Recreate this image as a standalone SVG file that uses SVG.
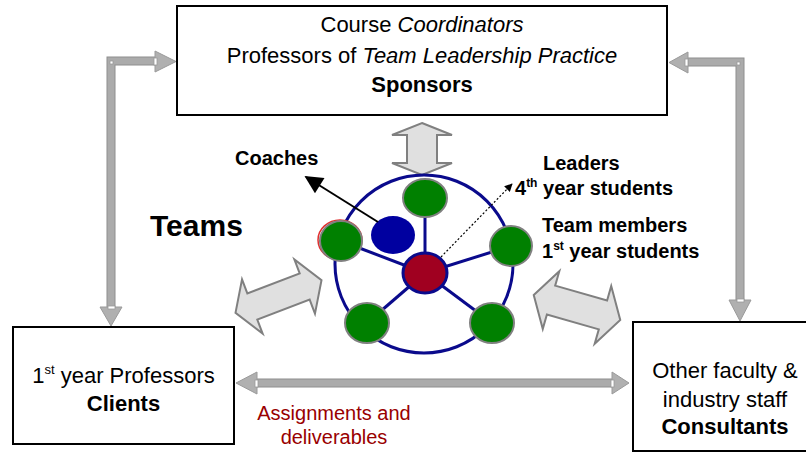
<svg xmlns="http://www.w3.org/2000/svg" width="806" height="452" viewBox="0 0 806 452">
<style>
.box{fill:#fff;stroke:#000;stroke-width:2}
.t{font-family:"Liberation Sans",Arial,sans-serif;font-size:22px;fill:#000}
.b{font-weight:bold}
.lab{font-family:"Liberation Sans",Arial,sans-serif;font-size:20px;font-weight:bold;fill:#000}
.big{font-size:30px}
.shaftO{fill:none;stroke:#8e8e8e;stroke-width:9;stroke-linejoin:miter}
.shaftI{fill:none;stroke:#ababab;stroke-width:7;stroke-linejoin:miter}
.head{fill:#b0b0b0;stroke:#9a9a9a;stroke-width:1}
.joint{fill:#fff;stroke:#9a9a9a;stroke-width:0.8}
.fat{fill:#e0e0e0;stroke:#808080;stroke-width:2;stroke-linejoin:miter}
.ring{fill:none;stroke:#0a0a8c;stroke-width:3}
.spoke{stroke:#0a0a8c;stroke-width:3}
.green{fill:#008000;stroke:#808080;stroke-width:2}
</style>
<defs>
<marker id="blk" viewBox="0 0 10 10" refX="9" refY="5" markerUnits="userSpaceOnUse" markerWidth="20" markerHeight="18" orient="auto"><path d="M0,0 L10,5 L0,10 z" fill="#000"/></marker>
<marker id="sm" viewBox="0 0 10 10" refX="9" refY="5" markerUnits="userSpaceOnUse" markerWidth="8" markerHeight="8" orient="auto"><path d="M0,0 L10,5 L0,10 z" fill="#000"/></marker>
</defs>

<g id="connectors">
  <path class="shaftO" d="M155,61 H111 V307"/>
  <path class="shaftI" d="M155,61 H111 V307"/>
  <polygon class="head" points="155,51 176,61.5 155,72"/>
  <polygon class="head" points="100,307 111,326 122,307"/>
  <rect class="joint" x="154" y="58" width="3" height="7"/>
  <rect class="joint" x="108" y="306" width="7" height="3"/>
  <rect class="joint" x="110" y="61" width="3" height="3"/>
  <path class="shaftO" d="M688,62 H740 V300"/>
  <path class="shaftI" d="M688,62 H740 V300"/>
  <polygon class="head" points="688,52 669,62.5 688,73"/>
  <polygon class="head" points="729,300 740,321 751,300"/>
  <rect class="joint" x="685" y="59" width="3" height="7"/>
  <rect class="joint" x="737" y="299" width="7" height="3"/>
  <rect class="joint" x="737" y="62" width="3" height="3"/>
  <path class="shaftO" d="M257,383 H612"/>
  <path class="shaftI" d="M257,383 H612"/>
  <polygon class="head" points="257,372 236,383 257,394"/>
  <polygon class="head" points="612,372 629,383 612,394"/>
  <rect class="joint" x="255" y="380" width="3" height="7"/>
  <rect class="joint" x="611" y="380" width="3" height="7"/>
  <polygon class="fat" points="422,123 452,135 437,135 437,163 452,163 422,175 392,163 407,163 407,135 392,135"/>
  <polygon class="fat" transform="translate(278.5,296.5) rotate(-20.8)" points="-46,0 -28,-29 -28,-14 28,-14 28,-29 46,0 28,29 28,14 -28,14 -28,29"/>
  <polygon class="fat" transform="translate(577,307.5) rotate(16)" points="-45,0 -27,-30 -27,-15 27,-15 27,-30 45,0 27,30 27,15 -27,15 -27,30"/>
</g>

<g id="sponsors">
  <rect class="box" x="177" y="6" width="490" height="109"/>
  <text class="t" x="422" y="32" text-anchor="middle">Course <tspan font-style="italic">Coordinators</tspan></text>
  <text class="t" x="422" y="63" text-anchor="middle">Professors of <tspan font-style="italic">Team Leadership Practice</tspan></text>
  <text class="t b" x="422" y="92" text-anchor="middle">Sponsors</text>
</g>

<g id="clients">
  <rect class="box" x="13" y="327" width="221" height="117"/>
  <text class="t" x="123.5" y="383" text-anchor="middle">1<tspan font-size="13" dy="-9">st</tspan><tspan dy="9"> year Professors</tspan></text>
  <text class="t b" x="123.5" y="411" text-anchor="middle">Clients</text>
</g>

<g id="consultants">
  <rect class="box" x="633" y="322" width="190" height="129"/>
  <text class="t" x="725" y="378" text-anchor="middle">Other faculty &amp;</text>
  <text class="t" x="725" y="407" text-anchor="middle">industry staff</text>
  <text class="t b" x="725" y="434" text-anchor="middle">Consultants</text>
</g>

<g id="teams">
  <text class="lab big" x="150" y="236">Teams</text>
  <circle class="ring" cx="424" cy="264" r="89"/>
  <line class="spoke" x1="425" y1="273" x2="425" y2="198"/>
  <line class="spoke" x1="425" y1="273" x2="341" y2="241"/>
  <line class="spoke" x1="425" y1="273" x2="511" y2="246"/>
  <line class="spoke" x1="425" y1="273" x2="367" y2="323"/>
  <line class="spoke" x1="425" y1="273" x2="492" y2="323"/>
  <ellipse class="green" cx="425" cy="198" rx="22" ry="19"/>
  <ellipse cx="340" cy="240" rx="22" ry="20" fill="none" stroke="#e03030" stroke-width="1.5"/>
  <ellipse class="green" cx="341" cy="241" rx="21" ry="20"/>
  <ellipse class="green" cx="511" cy="246" rx="21" ry="20"/>
  <ellipse class="green" cx="367" cy="323" rx="22" ry="20"/>
  <ellipse class="green" cx="492" cy="323" rx="22" ry="20"/>
  <ellipse cx="393" cy="235" rx="22" ry="19" fill="#0000a0"/>
  <ellipse cx="425" cy="273" rx="22" ry="20" fill="#a00020" stroke="#0a0a8c" stroke-width="3"/>
</g>

<g id="coaches">
  <line x1="378" y1="222" x2="306" y2="177" stroke="#000" stroke-width="2" marker-end="url(#blk)"/>
  <text class="lab" x="235" y="165">Coaches</text>
</g>

<g id="leaders">
  <line x1="441" y1="257" x2="512" y2="184" stroke="#000" stroke-width="1.2" stroke-dasharray="2 2" marker-end="url(#sm)"/>
  <text class="lab" x="543" y="170">Leaders</text>
  <text class="lab" x="515" y="195">4<tspan font-size="12" dy="-8">th</tspan><tspan dy="8"> year students</tspan></text>
</g>

<g id="members">
  <text class="lab" x="542" y="232">Team members</text>
  <text class="lab" x="542" y="258">1<tspan font-size="12" dy="-8">st</tspan><tspan dy="8"> year students</tspan></text>
</g>

<g id="assignments">
  <text x="334" y="420" text-anchor="middle" font-family="Liberation Sans, Arial, sans-serif" font-size="20" fill="#990000">Assignments and</text>
  <text x="334" y="444" text-anchor="middle" font-family="Liberation Sans, Arial, sans-serif" font-size="20" fill="#990000">deliverables</text>
</g>
</svg>
